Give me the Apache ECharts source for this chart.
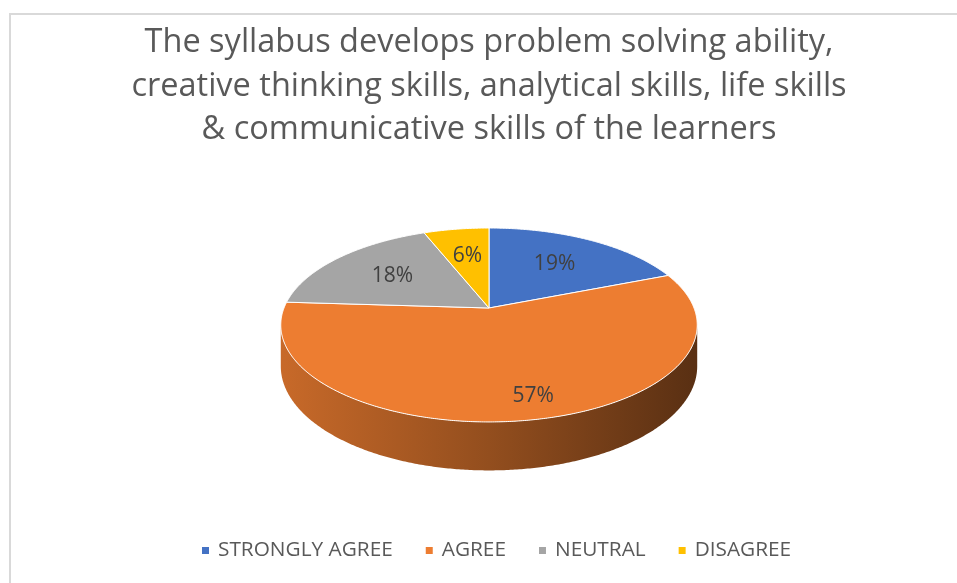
<!DOCTYPE html>
<html><head><meta charset="utf-8">
<script src="https://cdn.jsdelivr.net/npm/echarts@6/dist/echarts.min.js"></script>
<style>
html,body{margin:0;padding:0;background:#fff;overflow:hidden;width:957px;height:583px}
#frame{position:absolute;left:9px;top:13px;width:960px;height:590px;border-left:2px solid #d9d9d9;border-top:2px solid #d9d9d9;box-sizing:border-box}
#chart{position:absolute;left:0;top:0;width:957px;height:583px}
</style></head>
<body><div id="frame"></div><div id="chart"></div>
<script>
// ---- data ----
const titleLines = [
  'The syllabus develops problem solving ability,',
  'creative thinking skills, analytical skills, life skills',
  '& communicative skills of the learners'
];
const categories = ['STRONGLY AGREE', 'AGREE', 'NEUTRAL', 'DISAGREE'];
const percentValues = [19, 57, 18, 6];

// ---- style ----
const sliceColors = ['#4472C4', '#ED7D31', '#A5A5A5', '#FFC000'];
const FONT = 'Open Sans';
// 3D pie projection parameters (layout)
const CX = 489, CY = 308, R = 205, A = 94, P = 0.175, H = 40;
const LABEL_F = 0.62;
const labelNudge = [[0, 0], [22, 24], [0, 0], [0, 0]];

const total = percentValues.reduce((a, b) => a + b, 0);
const cum = [0];
percentValues.forEach(v => cum.push(cum[cum.length - 1] + v));
const TWO_PI = Math.PI * 2;

function proj(theta, f, bottom) {
  const c = Math.cos(theta), s = Math.sin(theta);
  const d = 1 + P * f * c;
  return [CX + R * f * s / d, CY - A * f * c / d + (bottom ? H / d : 0)];
}
function arc(a0, a1, f, bottom) {
  const n = Math.max(2, Math.ceil(Math.abs(a1 - a0) / (Math.PI / 360)));
  const pts = [];
  for (let k = 0; k <= n; k++) pts.push(proj(a0 + (a1 - a0) * k / n, f, bottom));
  return pts;
}
function shade(hex, k) {
  const n = parseInt(hex.slice(1), 16);
  const r = Math.round(((n >> 16) & 255) * k), g = Math.round(((n >> 8) & 255) * k), b = Math.round((n & 255) * k);
  return 'rgb(' + r + ',' + g + ',' + b + ')';
}

const sideRange = [Math.acos(-P), TWO_PI - Math.acos(-P)];

const sideSeries = {
  type: 'custom',
  name: '__side',
  coordinateSystem: 'none',
  z: 1,
  silent: true,
  data: percentValues.map(v => [v]),
  renderItem: function (params, api) {
    const i = params.dataIndex;
    const a0 = cum[i] / total * TWO_PI, a1 = cum[i + 1] / total * TWO_PI;
    const s = Math.max(a0, sideRange[0]), e = Math.min(a1, sideRange[1]);
    if (e <= s) return { type: 'group', children: [] };
    const top = arc(s, e, 1, false);
    const bot = arc(e, s, 1, true);
    const col = sliceColors[i];
    return {
      type: 'polygon',
      shape: { points: top.concat(bot) },
      style: {
        fill: {
          type: 'linear', x: CX - R, y: 0, x2: CX + R, y2: 0, global: true,
          colorStops: [
            { offset: 0, color: shade(col, 0.84) },
            { offset: 0.5, color: shade(col, 0.62) },
            { offset: 1, color: shade(col, 0.38) }
          ]
        },
        stroke: null
      }
    };
  }
};

const topSeries = categories.map((name, i) => ({
  type: 'custom',
  name: name,
  coordinateSystem: 'none',
  z: 2,
  itemStyle: { color: sliceColors[i] },
  data: [[percentValues[i]]],
  renderItem: function (params, api) {
    const a0 = cum[i] / total * TWO_PI, a1 = cum[i + 1] / total * TWO_PI;
    const pts = [[CX, CY]].concat(arc(a0, a1, 1, false));
    const lp = proj((a0 + a1) / 2, LABEL_F, false);
    return {
      type: 'group',
      children: [
        { type: 'polygon', shape: { points: pts }, style: { fill: sliceColors[i], stroke: '#ffffff', lineWidth: 1 } },
        {
          type: 'text', x: lp[0] + labelNudge[i][0], y: lp[1] + labelNudge[i][1], z2: 10,
          style: { text: api.value(0) + '%', fill: '#404040', font: '21px "' + FONT + '"', align: 'center', verticalAlign: 'middle' }
        }
      ]
    };
  }
}));

const chart = echarts.init(document.getElementById('chart'), null, { renderer: 'canvas' });
chart.setOption({
  animation: false,
  backgroundColor: 'transparent',
  title: {
    text: titleLines.join('\n'),
    left: 489, top: 21, padding: 0, textAlign: 'center',
    textStyle: { fontFamily: FONT, fontSize: 32.5, fontWeight: 'normal', color: '#595959', lineHeight: 43.5 }
  },
  legend: {
    data: categories,
    left: 202, top: 540, padding: 0,
    icon: 'rect', itemWidth: 7, itemHeight: 7, itemGap: 33,
    selectedMode: false,
    textStyle: { fontFamily: FONT, fontSize: 20.8, color: '#595959', padding: [0, 0, 0, 4] }
  },
  series: [sideSeries].concat(topSeries)
});
</script>
</body></html>
